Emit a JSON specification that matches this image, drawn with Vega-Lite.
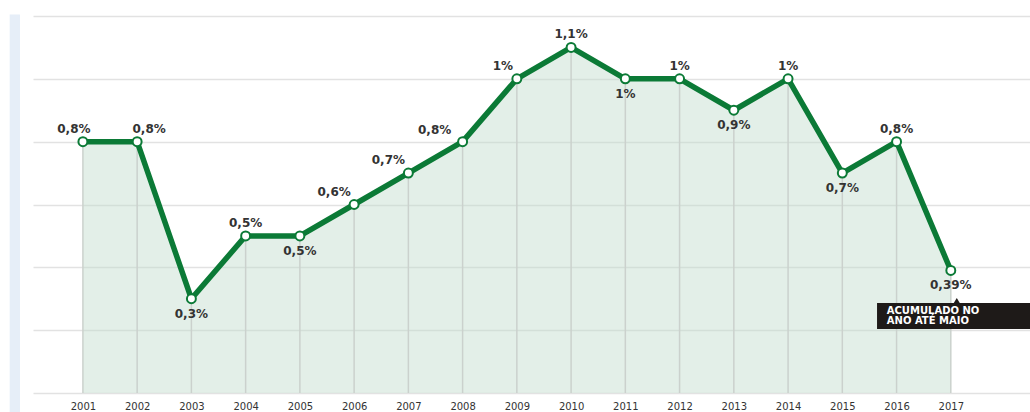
{
  "$schema": "https://vega.github.io/schema/vega-lite/v6.json",
  "autosize": "none",
  "width": 997,
  "height": 377,
  "padding": {"left": 33, "top": 16, "right": 0, "bottom": 19},
  "background": "white",
  "config": {"view": {"stroke": null}, "font": "DejaVu Sans"},
  "datasets": {
    "serie": [
      {"ano": 2001, "valor": 0.8, "rotulo": "0,8%"},
      {"ano": 2002, "valor": 0.8, "rotulo": "0,8%"},
      {"ano": 2003, "valor": 0.3, "rotulo": "0,3%"},
      {"ano": 2004, "valor": 0.5, "rotulo": "0,5%"},
      {"ano": 2005, "valor": 0.5, "rotulo": "0,5%"},
      {"ano": 2006, "valor": 0.6, "rotulo": "0,6%"},
      {"ano": 2007, "valor": 0.7, "rotulo": "0,7%"},
      {"ano": 2008, "valor": 0.8, "rotulo": "0,8%"},
      {"ano": 2009, "valor": 1.0, "rotulo": "1%"},
      {"ano": 2010, "valor": 1.1, "rotulo": "1,1%"},
      {"ano": 2011, "valor": 1.0, "rotulo": "1%"},
      {"ano": 2012, "valor": 1.0, "rotulo": "1%"},
      {"ano": 2013, "valor": 0.9, "rotulo": "0,9%"},
      {"ano": 2014, "valor": 1.0, "rotulo": "1%"},
      {"ano": 2015, "valor": 0.7, "rotulo": "0,7%"},
      {"ano": 2016, "valor": 0.8, "rotulo": "0,8%"},
      {"ano": 2017, "valor": 0.39, "rotulo": "0,39%"}
    ],
    "nota": [
      {"x0": 2015.64, "x1": 2018.7, "y0": 0.2037, "y1": 0.2865, "xt": 2015.82, "l1": 0.262, "l2": 0.230, "xs": 2017.11, "ys": 0.294}
    ],
    "faixa": [
      {"x0": 1999.65, "x1": 1999.84, "y0": -0.07, "y1": 1.205}
    ]
  },
  "data": {"name": "serie"},
  "encoding": {
    "x": {
      "field": "ano", "type": "quantitative",
      "scale": {"domain": [2000.08, 2018.46], "nice": false, "zero": false},
      "axis": {
        "values": [2001,2002,2003,2004,2005,2006,2007,2008,2009,2010,2011,2012,2013,2014,2015,2016,2017],
        "format": "d", "title": null, "grid": false, "domain": false, "ticks": false,
        "labelFontSize": 10, "labelColor": "#333333", "labelPadding": 8, "labelFont": "DejaVu Sans"
      }
    },
    "y": {
      "field": "valor", "type": "quantitative",
      "scale": {"domain": [0, 1.2], "nice": false},
      "axis": {
        "values": [0, 0.2, 0.4, 0.6, 0.8, 1.0, 1.2], "title": null, "labels": false,
        "ticks": false, "domain": false, "grid": true, "gridColor": "#e2e2e2", "gridWidth": 1.5
      }
    }
  },
  "layer": [
    {
      "data": {"name": "faixa"},
      "mark": {"type": "rect", "color": "#e6eef8", "clip": false},
      "encoding": {
        "x": {"field": "x0", "type": "quantitative"},
        "x2": {"field": "x1"},
        "y": {"field": "y0", "type": "quantitative"},
        "y2": {"field": "y1"}
      }
    },
    {
      "mark": {"type": "area", "color": "#c2dccb", "opacity": 0.45}
    },
    {
      "mark": {"type": "rule", "color": "#cbd1cd", "strokeWidth": 1.5},
      "encoding": {"y": {"datum": 0}, "y2": {"field": "valor"}}
    },
    {
      "mark": {"type": "line", "color": "#0b7a36", "strokeWidth": 5.5, "strokeJoin": "round"}
    },
    {
      "mark": {"type": "point", "filled": true, "fill": "white", "stroke": "#0b7a36", "strokeWidth": 2, "size": 80, "opacity": 1}
    },
    {
      "transform": [{"filter": {"field": "ano", "oneOf": [2004,2010,2012,2014,2016]}}],
      "mark": {"type": "text", "dy": -13, "fontWeight": "bold", "fontSize": 12, "color": "#333333"},
      "encoding": {"text": {"field": "rotulo"}}
    },
    {
      "transform": [{"filter": {"field": "ano", "equal": 2001}}],
      "mark": {"type": "text", "dy": -13, "dx": -9, "fontWeight": "bold", "fontSize": 12, "color": "#333333"},
      "encoding": {"text": {"field": "rotulo"}}
    },
    {
      "transform": [{"filter": {"field": "ano", "equal": 2002}}],
      "mark": {"type": "text", "dy": -13, "dx": 12, "fontWeight": "bold", "fontSize": 12, "color": "#333333"},
      "encoding": {"text": {"field": "rotulo"}}
    },
    {
      "transform": [{"filter": {"field": "ano", "oneOf": [2006, 2007]}}],
      "mark": {"type": "text", "dy": -13, "dx": -20, "fontWeight": "bold", "fontSize": 12, "color": "#333333"},
      "encoding": {"text": {"field": "rotulo"}}
    },
    {
      "transform": [{"filter": {"field": "ano", "equal": 2008}}],
      "mark": {"type": "text", "dy": -12, "dx": -28, "fontWeight": "bold", "fontSize": 12, "color": "#333333"},
      "encoding": {"text": {"field": "rotulo"}}
    },
    {
      "transform": [{"filter": {"field": "ano", "equal": 2009}}],
      "mark": {"type": "text", "dy": -13, "dx": -14, "fontWeight": "bold", "fontSize": 12, "color": "#333333"},
      "encoding": {"text": {"field": "rotulo"}}
    },
    {
      "transform": [{"filter": {"field": "ano", "oneOf": [2003,2005,2011,2013,2015,2017]}}],
      "mark": {"type": "text", "dy": 15, "fontWeight": "bold", "fontSize": 12, "color": "#333333"},
      "encoding": {"text": {"field": "rotulo"}}
    },
    {
      "data": {"name": "nota"},
      "mark": {"type": "rect", "color": "#1e1a18", "clip": false},
      "encoding": {
        "x": {"field": "x0", "type": "quantitative"},
        "x2": {"field": "x1"},
        "y": {"field": "y0", "type": "quantitative"},
        "y2": {"field": "y1"}
      }
    },
    {
      "data": {"name": "nota"},
      "mark": {"type": "point", "shape": "triangle-up", "filled": true, "color": "#1e1a18", "size": 40, "opacity": 1},
      "encoding": {
        "x": {"field": "xs", "type": "quantitative"},
        "y": {"field": "ys", "type": "quantitative"}
      }
    },
    {
      "data": {"name": "nota"},
      "mark": {"type": "text", "align": "left", "color": "white", "fontWeight": "bold", "fontSize": 10, "clip": false},
      "encoding": {
        "x": {"field": "xt", "type": "quantitative"},
        "y": {"field": "l1", "type": "quantitative"},
        "text": {"value": "ACUMULADO NO"}
      }
    },
    {
      "data": {"name": "nota"},
      "mark": {"type": "text", "align": "left", "color": "white", "fontWeight": "bold", "fontSize": 10, "clip": false},
      "encoding": {
        "x": {"field": "xt", "type": "quantitative"},
        "y": {"field": "l2", "type": "quantitative"},
        "text": {"value": "ANO ATÉ MAIO"}
      }
    }
  ]
}
